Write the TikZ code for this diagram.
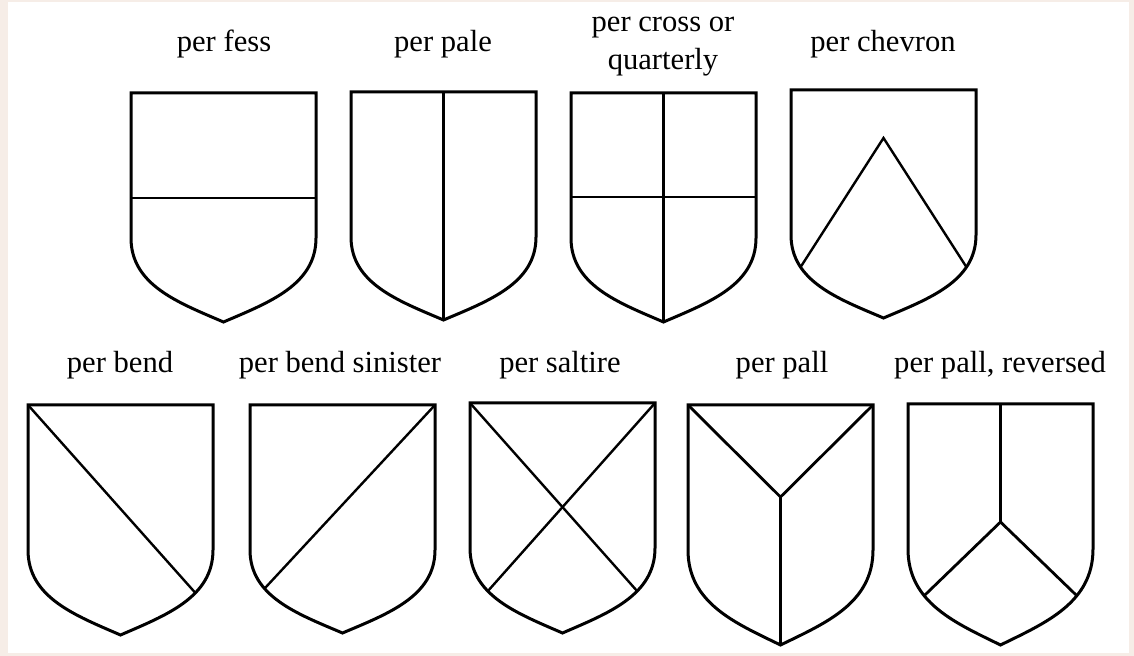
\documentclass[tikz,border=0pt]{standalone}
\usepackage{fontspec}
\setmainfont{Liberation Serif}
\definecolor{fond}{RGB}{246,237,231}
% contour d'un ecu : coin haut gauche en (0,0), pointe a la profondeur #1
\newcommand{\ecu}[1]{(0,0) -- (185,0) -- (185,145)
  .. controls (185,{145+0.56*(#1-145)}) and (137.5,{#1-0.23*(#1-145)}) .. (92.5,#1)
  .. controls (47.5,{#1-0.23*(#1-145)}) and (0,{145+0.56*(#1-145)}) .. (0,145) -- cycle}
\begin{document}
\begin{tikzpicture}[x=0.5pt, y=-0.5pt,
  font=\fontsize{15.3}{19}\selectfont,
  contour/.style={draw=black, line width=1.5pt},
  partition/.style={draw=black, line width=1.2pt},
  titre/.style={anchor=base, align=center}
]
  \useasboundingbox (0,0) rectangle (1134,656);
  \fill[fond]  (0,0) rectangle (1134,656);
  \fill[white] (8,2) rectangle (1129,653);
  % titres
  \node[titre] (fess)     at (224,52)  {per fess};
  \node[titre] (pale)     at (443,52)  {per pale};
  \node[titre, anchor=center] (cross) at (663,47) {per cross or\\quarterly};
  \node[titre] (chevron)  at (883,52)  {per chevron};
  \node[titre] (bend)     at (120,373) {per bend};
  \node[titre] (sinister) at (340,373) {per bend sinister};
  \node[titre] (saltire)  at (560,373) {per saltire};
  \node[titre] (pall)     at (782,373) {per pall};
  \node[titre] (reversed) at (1000,373) {per pall, reversed};
  % rang du haut
  \begin{scope}[shift={(131,93)}]
    \begin{scope} \clip \ecu{229};
      \draw[partition] (-10,105) -- (195,105);
    \end{scope}
    \draw[contour] \ecu{229};
  \end{scope}
  \begin{scope}[shift={(351,92)}]
    \begin{scope} \clip \ecu{228};
      \draw[partition] (92.5,-10) -- (92.5,240);
    \end{scope}
    \draw[contour] \ecu{228};
  \end{scope}
  \begin{scope}[shift={(571,93)}]
    \begin{scope} \clip \ecu{229};
      \draw[partition] (-10,104) -- (195,104);
      \draw[partition] (92.5,-10) -- (92.5,240);
    \end{scope}
    \draw[contour] \ecu{229};
  \end{scope}
  \begin{scope}[shift={(791,90)}]
    \begin{scope} \clip \ecu{228};
      \draw[partition] (-13.5,213) -- (92.5,48) -- (198.5,213);
    \end{scope}
    \draw[contour] \ecu{228};
  \end{scope}
  % rang du bas
  \begin{scope}[shift={(28,405)}]
    \begin{scope} \clip \ecu{230};
      \draw[partition] (0,0) -- (220,247);
    \end{scope}
    \draw[contour] \ecu{230};
  \end{scope}
  \begin{scope}[shift={(250,405)}]
    \begin{scope} \clip \ecu{228};
      \draw[partition] (185,0) -- (-36,238);
    \end{scope}
    \draw[contour] \ecu{228};
  \end{scope}
  \begin{scope}[shift={(470,403)}]
    \begin{scope} \clip \ecu{230};
      \draw[partition] (0,0) -- (203.5,229);
      \draw[partition] (185,0) -- (-18.5,229);
    \end{scope}
    \draw[contour] \ecu{230};
  \end{scope}
  \begin{scope}[shift={(688,405)}]
    \begin{scope} \clip \ecu{240};
      \draw[partition, line width=1.4pt] (0,0) -- (92.5,92) -- (185,0);
      \draw[partition, line width=1.4pt] (92.5,92) -- (92.5,260);
    \end{scope}
    \draw[contour] \ecu{240};
  \end{scope}
  \begin{scope}[shift={(908,404)}]
    \begin{scope} \clip \ecu{241};
      \draw[partition, line width=1.4pt] (92.5,-10) -- (92.5,118);
      \draw[partition, line width=1.4pt] (-10,217) -- (92.5,118) -- (195,217);
    \end{scope}
    \draw[contour] \ecu{241};
  \end{scope}
\end{tikzpicture}
\end{document}
